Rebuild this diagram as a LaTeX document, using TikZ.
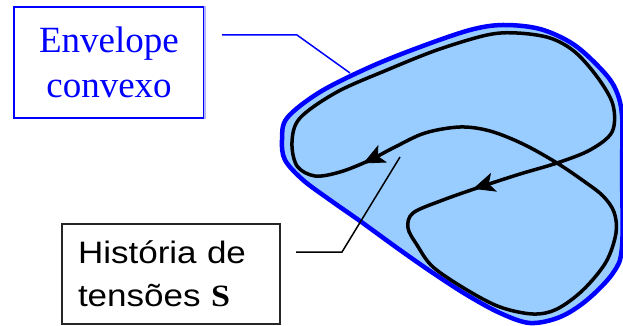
\documentclass[tikz,border=0pt]{standalone}
\usepackage{fontspec}
\setmainfont{Liberation Serif}
\newfontfamily\arialf[FakeStretch=1.13]{Liberation Sans}
\newfontfamily\sigmaf[FakeStretch=1.1]{Liberation Serif Bold}
\usetikzlibrary{arrows.meta}
\definecolor{envblue}{RGB}{0,0,255}
\definecolor{envfill}{RGB}{153,204,255}
\definecolor{lav}{RGB}{180,180,255}
\tikzset{
  envbox/.style={draw=envblue, line width=2pt, text=envblue, align=center,
    font=\fontsize{37}{45}\selectfont, minimum width=190pt, minimum height=111pt, anchor=north west, inner sep=0pt},
  histbox/.style={draw=black!85, line width=2pt, align=left, text width=186pt, inner xsep=16pt,
    font=\arialf\fontsize{31}{43}\selectfont, minimum height=100pt, anchor=north west, inner ysep=0pt},
  envlink/.style={draw=envblue, line width=1.5pt},
  histlink/.style={draw=black, line width=1.5pt},
  trajectory/.style={draw=black, line width=3.5pt},
  hull/.style={draw=envblue, line width=4.5pt, fill=envfill},
  tiphead/.style={fill=black, draw=black, line width=0.8pt, line join=miter}
}
\begin{document}
\begin{tikzpicture}[x=1pt,y=-1pt]
\useasboundingbox (0,0) rectangle (623,326);
% convex hull
\path[hull] plot[smooth cycle, tension=0.55] coordinates {
 (282,140) (287,118) (320,92) (370,67) (420,47) (470,30) (503,25) (540,29)
 (573,44) (600,68) (615,88) (622,115) (622,170) (622,247) (613,273) (587,300)
 (560,317) (530,323) (500,313) (467,295) (433,273) (400,250) (360,221) (330,200)
 (303,180) (285,160)};
% stress history
\path[trajectory] plot[smooth cycle, tension=0.55] coordinates {
 (292,142) (300,118) (337,92) (387,70) (437,50) (487,35) (517,33) (550,38)
 (575,52) (598,78) (613,105) (612,132) (590,150) (557,163) (520,174) (483,186)
 (443,200) (413,213) (408,228) (417,245) (433,267) (467,290) (500,307) (533,314)
 (557,309) (583,290) (606,262) (616,233) (614,212) (603,196) (585,182) (557,163)
 (523,144) (490,131) (460,127) (425,133) (395,147) (368,161) (340,172) (315,176)
 (297,166)};
% arrow heads
\path[tiphead] (364,163) -- (385.9,162.1) -- (377.4,156.4) -- (377.9,146.1) -- cycle;
\path[tiphead] (474,188.5) -- (495.8,191.1) -- (488.3,184) -- (490.4,173.9) -- cycle;
% boxes
\node[envbox] (env) at (13,6) {Envelope\\convexo};
\draw[lav, line width=2pt] (env.north east) -- (env.south east);
\node[histbox] (hist) at (61,223) {História de\\tensões {\sigmaf S}};
% connectors
\coordinate (e1) at (222,35);
\coordinate (e2) at (297,35);
\coordinate (e3) at (350,73);
\draw[envlink] (e1) -- (e2) -- (e3);
\coordinate (h1) at (296,252);
\coordinate (h2) at (342,252);
\coordinate (h3) at (400,157);
\draw[histlink] (h1) -- (h2) -- (h3);
\end{tikzpicture}
\end{document}
